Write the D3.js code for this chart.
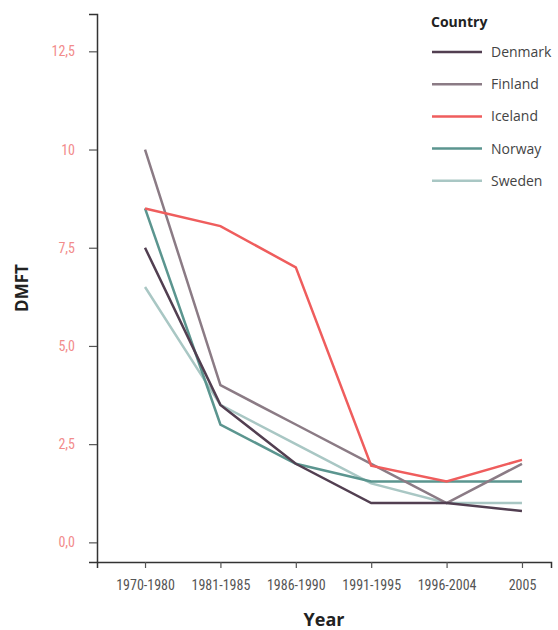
<!DOCTYPE html>
<html><head><meta charset="utf-8">
<script src="https://cdn.jsdelivr.net/npm/d3@7"></script>
<style>
body{margin:0;background:#fff;}
svg{display:block;}
.tick text{font-family:"Liberation Sans Narrow","Roboto Condensed","Open Sans",sans-serif;font-size:14px;}
</style></head>
<body><svg id="chart" width="558" height="630"></svg>
<script>
const years = ["1970-1980","1981-1985","1986-1990","1991-1995","1996-2004","2005"];
const countries = ["Denmark","Finland","Iceland","Norway","Sweden"];
const denmark = [7.5, 3.5, 2.0, 1.0, 1.0, 0.8];
const finland = [10.0, 4.0, 3.0, 2.0, 1.0, 2.0];
const iceland = [8.5, 8.05, 7.0, 1.95, 1.55, 2.1];
const norway  = [8.5, 3.0, 2.0, 1.55, 1.55, 1.55];
const sweden  = [6.5, 3.5, 2.5, 1.5, 1.0, 1.0];
const yTicks = [0, 2.5, 5, 7.5, 10, 12.5];
const yTickLabels = ["0,0","2,5","5,0","7,5","10","12,5"];
const colors = ["#523f51","#8b7b85","#ef5d5d","#5b958f","#a9c7c4"];

const series = [denmark, finland, iceland, norway, sweden];
const svg = d3.select("#chart");
const x = d3.scaleLinear().domain([-0.637, 5.385]).range([97, 551]);
const y = d3.scaleLinear().domain([-0.5, 13.45]).range([562, 14]);

// axes
const xAxis = svg.append("g").attr("transform","translate(0,562)")
  .call(d3.axisBottom(x).tickValues(d3.range(years.length)).tickFormat(i=>years[i]).tickSize(6).tickPadding(12));
xAxis.select(".domain").attr("stroke","#333").attr("stroke-width",1.5);
xAxis.selectAll(".tick line").attr("stroke","#555").attr("stroke-width",1.2);
xAxis.selectAll(".tick text").attr("fill","#555").style("font-size","14px");

const yAxis = svg.append("g").attr("transform","translate(97,0)")
  .call(d3.axisLeft(y).tickValues(yTicks).tickFormat((d,i)=>yTickLabels[i]).tickSize(8).tickPadding(14));
yAxis.select(".domain").attr("stroke","#333").attr("stroke-width",1.5);
yAxis.selectAll(".tick line").attr("stroke","#555").attr("stroke-width",1.2);
yAxis.selectAll(".tick text").attr("fill","#f28b8b").style("font-size","14px");

// lines
const line = d3.line().x((d,i)=>x(i)).y(d=>y(d));
[4,3,1,2,0].forEach(k=>{
  svg.append("path").datum(series[k]).attr("d",line)
    .attr("fill","none").attr("stroke",colors[k]).attr("stroke-width",2.5)
    .attr("stroke-linejoin","miter");
});

// legend
const lg = svg.append("g");
lg.append("text").attr("x",431).attr("y",27).text("Country")
  .attr("font-family","Open Sans, sans-serif").attr("font-weight","bold").attr("font-size",14).attr("fill","#222");
countries.forEach((c,i)=>{
  const yy = 52 + i*32.2;
  lg.append("line").attr("x1",432).attr("x2",482).attr("y1",yy).attr("y2",yy)
    .attr("stroke",colors[i]).attr("stroke-width",2.5);
  lg.append("text").attr("x",491).attr("y",yy+5).text(c)
    .attr("font-family","Open Sans, sans-serif").attr("font-size",14).attr("fill","#444");
});

// axis titles
svg.append("text").attr("x",324).attr("y",626).attr("text-anchor","middle").text("Year")
  .attr("font-family","Open Sans, sans-serif").attr("font-weight","bold").attr("font-size",18).attr("fill","#222");
svg.append("text").attr("transform","translate(28,288) rotate(-90)").attr("text-anchor","middle").text("DMFT")
  .attr("font-family","Open Sans, sans-serif").attr("font-weight","bold").attr("font-size",17).attr("fill","#222");
</script></body></html>
